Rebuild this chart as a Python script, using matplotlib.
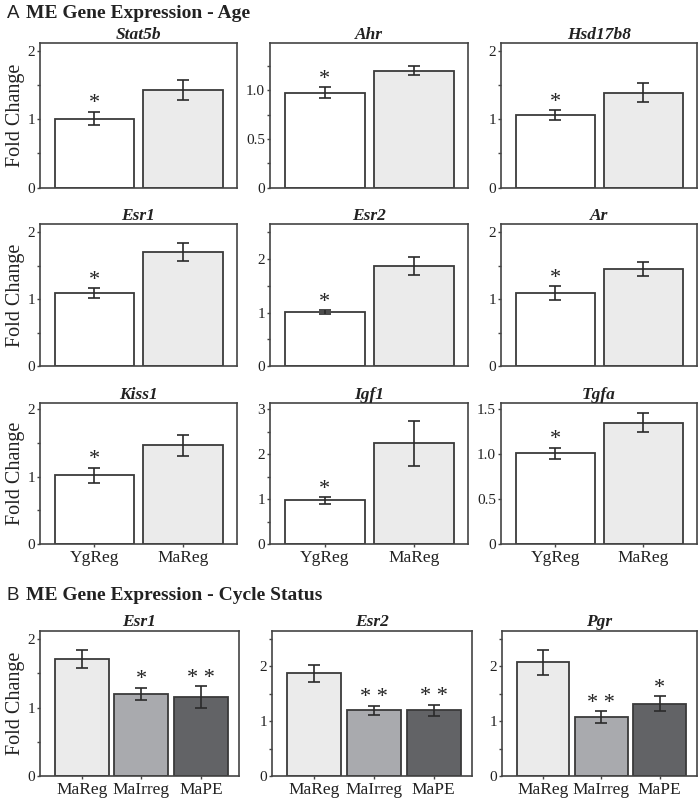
import matplotlib
matplotlib.use('Agg')
import matplotlib.pyplot as plt
import numpy as np

# ---------------- data ----------------
age_groups = ['YgReg', 'MaReg']
age_genes = ['Stat5b', 'Ahr', 'Hsd17b8', 'Esr1', 'Esr2', 'Ar', 'Kiss1', 'Igf1', 'Tgfa']
age_means = [[1.01, 1.43], [0.975, 1.20], [1.06, 1.39],
             [1.09, 1.71], [1.01, 1.87], [1.09, 1.45],
             [1.02, 1.47], [0.97, 2.24], [1.01, 1.35]]
age_sems = [[0.10, 0.15], [0.055, 0.05], [0.07, 0.14],
            [0.07, 0.135], [0.035, 0.17], [0.10, 0.11],
            [0.115, 0.155], [0.07, 0.50], [0.06, 0.105]]
age_sig = [['*', '']] * 9

cycle_groups = ['MaReg', 'MaIrreg', 'MaPE']
cycle_genes = ['Esr1', 'Esr2', 'Pgr']
cycle_means = [[1.71, 1.20, 1.15], [1.87, 1.20, 1.20], [2.07, 1.07, 1.32]]
cycle_sems = [[0.13, 0.09, 0.16], [0.16, 0.08, 0.10], [0.23, 0.11, 0.13]]
cycle_sig = [['', '*', '* *'], ['', '* *', '* *'], ['', '* *', '*']]

# axis settings (limits, ticks, labels)
age_ylim = [2.11, 1.48, 2.11, 2.12, 2.65, 2.12, 2.10, 3.14, 1.57]
age_ticks = [np.arange(0, 2.01, 0.5), np.arange(0, 1.26, 0.25), np.arange(0, 2.01, 0.5),
             np.arange(0, 2.01, 0.5), np.arange(0, 2.51, 0.5), np.arange(0, 2.01, 0.5),
             np.arange(0, 2.01, 0.5), np.arange(0, 3.01, 0.5), np.arange(0, 1.51, 0.5)]
age_ticklabels = [
    {0: '0', 1: '1', 2: '2'},
    {0: '0', 0.5: '0.5', 1.0: '1.0'},
    {0: '0', 1: '1', 2: '2'},
    {0: '0', 1: '1', 2: '2'},
    {0: '0', 1: '1', 2: '2'},
    {0: '0', 1: '1', 2: '2'},
    {0: '0', 1: '1', 2: '2'},
    {0: '0', 1: '1', 2: '2', 3: '3'},
    {0: '0', 0.5: '0.5', 1.0: '1.0', 1.5: '1.5'},
]
cycle_ylim = [2.125, 2.65, 2.65]
cycle_ticks = [np.arange(0, 2.01, 0.5), np.arange(0, 2.51, 0.5), np.arange(0, 2.51, 0.5)]
cycle_ticklabels = [{0: '0', 1: '1', 2: '2'}] * 3

age_colors = ['#ffffff', '#ebebeb']
cycle_colors = ['#ebebeb', '#a9aaae', '#626366']

# ---------------- figure ----------------
W, H = 700, 798
fig = plt.figure(figsize=(W / 100, H / 100), dpi=100)
SERIF = 'Liberation Serif'
SANS = 'Liberation Sans'
TXT = '#222222'
EDGE = '#3a3a3a'


def rect(l, r, t, b):
    return [l / W, 1 - b / H, (r - l) / W, (b - t) / H]


def draw(ax, title, groups, means, sems, sig, colors, ymax, ticks, tlabels,
         show_x, show_ylabel, xlim):
    x = np.arange(len(groups))
    ax.bar(x, means, width=0.9, color=colors, edgecolor=EDGE, linewidth=1.3, zorder=2)
    ax.errorbar(x, means, yerr=sems, fmt='none', ecolor='#2a2a2a', elinewidth=1.2,
                capsize=4.2, capthick=1.2, zorder=3)
    for xi, m, e, s in zip(x, means, sems, sig):
        if s:
            ax.annotate(s, xy=(xi, m + e), xytext=(0, -1), textcoords='offset points',
                        ha='center', va='bottom', fontsize=16, family=SERIF,
                        color=TXT, zorder=4)
    ax.set_xlim(*xlim)
    ax.set_ylim(0, ymax)
    ax.set_yticks(ticks)
    ax.set_yticklabels([tlabels.get(round(t, 2), '') for t in ticks],
                       family=SERIF, fontsize=11, color=TXT)
    ax.tick_params(axis='y', direction='out', length=2.5, width=1, color='#444444', pad=1)
    if show_x:
        ax.set_xticks(x)
        ax.set_xticklabels(groups, family=SERIF, fontsize=12.5, color=TXT)
        ax.tick_params(axis='x', direction='out', length=2.5, width=1, color='#444444', pad=2)
    else:
        ax.set_xticks([])
    for sp in ax.spines.values():
        sp.set_color('#444444')
        sp.set_linewidth(1.2)
    ax.set_title(title, family=SERIF, fontstyle='italic', fontweight='bold',
                 fontsize=12.5, color=TXT, pad=2)
    if show_ylabel:
        ax.set_ylabel('Fold Change', family=SERIF, fontsize=14.5, color=TXT, labelpad=2)


cols = [(40, 237), (270, 468), (501, 697)]
rows = [(43.3, 187.7), (224.3, 366), (402.7, 544)]
for i, gene in enumerate(age_genes):
    r, c = divmod(i, 3)
    ax = fig.add_axes(rect(cols[c][0], cols[c][1], rows[r][0], rows[r][1]))
    draw(ax, gene, age_groups, age_means[i], age_sems[i], age_sig[i], age_colors,
         age_ylim[i], age_ticks[i], age_ticklabels[i], r == 2, c == 0, (-0.615, 1.61))

bcols = [(40, 239), (272, 472), (502, 697)]
for i, gene in enumerate(cycle_genes):
    ax = fig.add_axes(rect(bcols[i][0], bcols[i][1], 630.5, 776))
    draw(ax, gene, cycle_groups, cycle_means[i], cycle_sems[i], cycle_sig[i], cycle_colors,
         cycle_ylim[i], cycle_ticks[i], cycle_ticklabels[i], True, i == 0, (-0.7, 2.64))

fig.text(7 / W, 1 - 13 / H, 'A', family=SANS, fontsize=13.5, color=TXT, va='center')
fig.text(26 / W, 1 - 13 / H, 'ME Gene Expression - Age', family=SERIF, fontweight='bold',
         fontsize=14, color=TXT, va='center')
fig.text(7 / W, 1 - 595 / H, 'B', family=SANS, fontsize=13.5, color=TXT, va='center')
fig.text(26 / W, 1 - 595 / H, 'ME Gene Expression - Cycle Status', family=SERIF,
         fontweight='bold', fontsize=14, color=TXT, va='center')

fig.savefig('out.png', dpi=100, facecolor='white')
